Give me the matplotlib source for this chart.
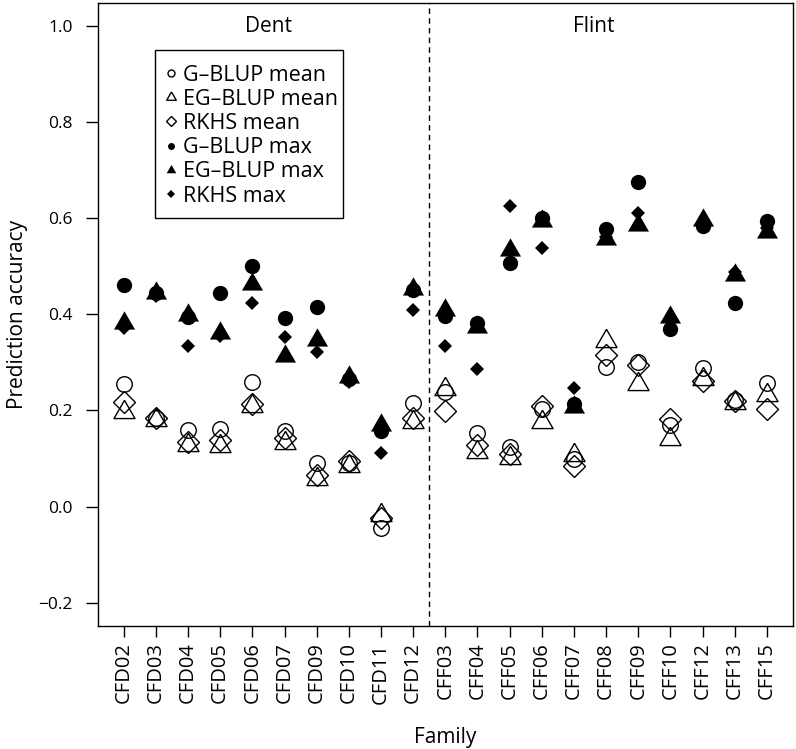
import matplotlib
matplotlib.use('Agg')
import matplotlib.pyplot as plt
from matplotlib.lines import Line2D
from matplotlib.markers import MarkerStyle
from matplotlib.patches import Rectangle

plt.rcParams['font.family'] = ['Open Sans', 'DejaVu Sans']

# data
families = ['CFD02', 'CFD03', 'CFD04', 'CFD05', 'CFD06', 'CFD07', 'CFD09', 'CFD10', 'CFD11', 'CFD12',
            'CFF03', 'CFF04', 'CFF05', 'CFF06', 'CFF07', 'CFF08', 'CFF09', 'CFF10', 'CFF12', 'CFF13', 'CFF15']

gblup_mean = [0.255, 0.185, 0.160, 0.162, 0.260, 0.157, 0.090, 0.090, -0.045, 0.215,
              0.238, 0.153, 0.123, 0.202, 0.098, 0.290, 0.300, 0.170, 0.288, 0.222, 0.258]
egblup_mean = [0.197, 0.180, 0.128, 0.125, 0.210, 0.132, 0.057, 0.085, -0.018, 0.176,
               0.245, 0.113, 0.102, 0.176, 0.108, 0.345, 0.256, 0.141, 0.265, 0.215, 0.232]
rkhs_mean = [0.218, 0.185, 0.134, 0.138, 0.214, 0.142, 0.066, 0.095, -0.024, 0.184,
             0.199, 0.128, 0.110, 0.209, 0.085, 0.315, 0.294, 0.183, 0.262, 0.220, 0.202]
gblup_max = [0.461, 0.445, 0.395, 0.445, 0.500, 0.392, 0.415, 0.265, 0.158, 0.450,
             0.397, 0.381, 0.507, 0.600, 0.214, 0.577, 0.675, 0.369, 0.583, 0.424, 0.594]
egblup_max = [0.383, 0.445, 0.399, 0.361, 0.463, 0.313, 0.347, 0.270, 0.169, 0.452,
              0.409, 0.374, 0.534, 0.595, 0.207, 0.557, 0.587, 0.395, 0.597, 0.481, 0.571]
rkhs_max = [0.372, 0.438, 0.334, 0.355, 0.423, 0.352, 0.322, 0.260, 0.111, 0.409,
            0.334, 0.286, 0.625, 0.539, 0.246, 0.560, 0.610, 0.390, 0.590, 0.488, 0.580]

legend_labels = ['G–BLUP mean', 'EG–BLUP mean', 'RKHS mean', 'G–BLUP max', 'EG–BLUP max', 'RKHS max']

# R-style equilateral triangle
tri_verts = [(0, 1.555), (1.347, -0.778), (-1.347, -0.778), (0, 1.555)]
tri = MarkerStyle(tri_verts, joinstyle='miter')

fig = plt.figure(figsize=(7.96, 7.49), dpi=100)
ax = fig.add_axes([0.1231, 0.1646, 0.8727, 0.8314])

hollow = dict(ls='none', mfc='none', mec='black', mew=1.0)
filled = dict(ls='none', color='black', mew=0)

ax.plot(families, gblup_mean, marker='o', ms=11.2, **hollow)
ax.plot(families, egblup_mean, marker=tri, ms=17.5, **hollow)
ax.plot(families, rkhs_mean, marker='D', ms=11, **hollow)
ax.plot(families, gblup_max, marker='o', ms=11, **filled)
ax.plot(families, egblup_max, marker=tri, ms=17.5, **filled)
ax.plot(families, rkhs_max, marker='D', ms=7.6, **filled)

ax.axvline(9.5, color='black', ls=(0, (4, 3)), lw=1)

ax.text(4.5, 1.0, 'Dent', ha='center', va='center', fontsize=15)
ax.text(14.6, 1.0, 'Flint', ha='center', va='center', fontsize=15)

ax.set_xlim(-0.8, 20.8)
ax.set_ylim(-0.248, 1.048)
ax.set_yticks([-0.2, 0.0, 0.2, 0.4, 0.6, 0.8, 1.0])

ax.tick_params(axis='x', labelrotation=90, labelsize=14.5, length=8, width=1, pad=4)
ax.tick_params(axis='y', labelsize=12.5, length=9, width=1, pad=9)
for s in ax.spines.values():
    s.set_linewidth(1)

ax.set_xlabel('Family', fontsize=15, labelpad=17)
ax.set_ylabel('Prediction accuracy', fontsize=15, labelpad=8)

# legend with smaller symbols, boxed by a plain frame
handles = [
    Line2D([], [], marker='o', ms=5, **hollow),
    Line2D([], [], marker=tri, ms=8, **hollow),
    Line2D([], [], marker='D', ms=5, **hollow),
    Line2D([], [], marker='o', ms=5, **filled),
    Line2D([], [], marker=tri, ms=8, **filled),
    Line2D([], [], marker='D', ms=3.8, **filled),
]
ax.legend(handles, legend_labels, loc='upper left', bbox_to_anchor=(0.082, 0.9133),
          borderaxespad=0, fontsize=15.5, frameon=False,
          handlelength=0.8, handletextpad=0.15, borderpad=0.35, labelspacing=0.15)
ax.add_patch(Rectangle((0.082, 0.6547), 0.2707, 0.2698, transform=ax.transAxes,
                       fill=False, lw=1, ec='black', zorder=5))

fig.savefig('out.png', dpi=100)
